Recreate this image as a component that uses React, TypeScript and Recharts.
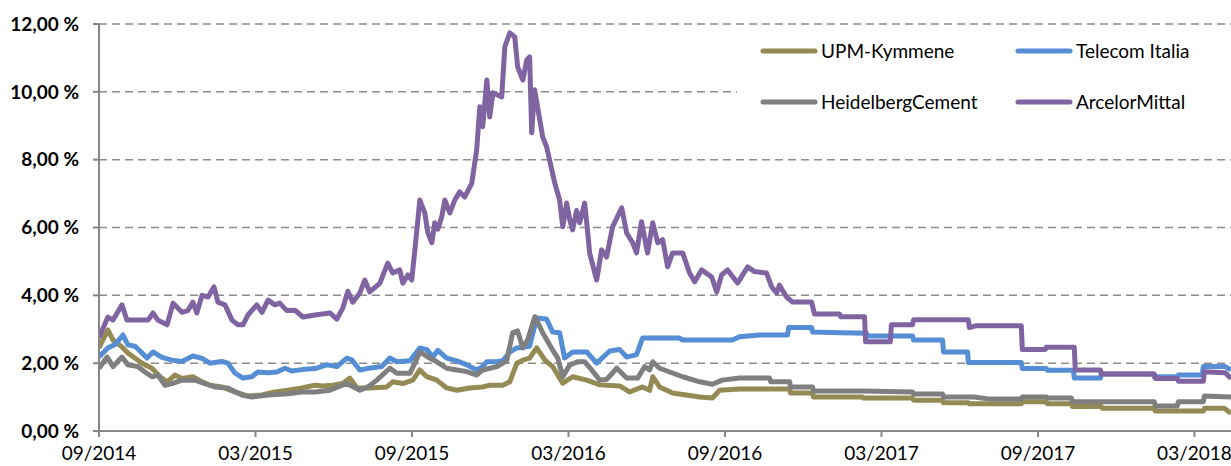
import { LineChart, Line, XAxis, YAxis, CartesianGrid } from 'recharts';

// x = months since 09/2014, y = percent
const upm: [number, number][] = [
  [0, 2.45], [0.34, 2.98], [0.54, 2.68], [0.88, 2.48], [1.11, 2.3], [1.65, 2.0], [2.03, 1.85],
  [2.34, 1.6], [2.61, 1.45], [2.91, 1.65], [3.18, 1.55], [3.6, 1.6], [3.95, 1.45], [4.25, 1.35],
  [4.71, 1.3], [5.21, 1.15], [5.71, 1.03], [6.25, 1.06], [6.74, 1.15], [7.24, 1.2], [7.78, 1.27],
  [8.28, 1.35], [8.58, 1.33], [8.97, 1.35], [9.35, 1.4], [9.62, 1.56], [9.89, 1.27], [10.38, 1.27],
  [11.03, 1.3], [11.26, 1.45], [11.65, 1.4], [12.03, 1.5], [12.3, 1.8], [12.57, 1.6], [12.95, 1.5],
  [13.33, 1.27], [13.72, 1.2], [14.21, 1.27], [14.71, 1.3], [14.98, 1.35], [15.48, 1.35],
  [15.75, 1.45], [16.02, 2.0], [16.25, 2.09], [16.51, 2.15], [16.78, 2.45], [17.09, 2.1],
  [17.39, 1.9], [17.78, 1.41], [18.16, 1.6], [18.7, 1.5], [19.2, 1.36], [19.96, 1.33],
  [20.34, 1.15], [20.84, 1.3], [21.11, 1.2], [21.23, 1.6], [21.49, 1.3], [21.99, 1.12],
  [23.03, 1.0], [23.52, 0.97], [23.79, 1.2], [24.56, 1.24], [26.48, 1.24], [26.51, 1.12],
  [27.36, 1.12], [27.39, 1.0], [29.27, 1.0], [29.31, 0.97], [31.19, 0.97], [31.23, 0.91],
  [32.34, 0.91], [32.38, 0.83], [33.33, 0.83], [33.37, 0.8], [35.36, 0.8], [35.4, 0.86],
  [36.32, 0.86], [36.36, 0.8], [37.28, 0.8], [37.32, 0.72], [38.43, 0.72], [38.47, 0.67],
  [40.46, 0.67], [40.5, 0.59], [42.34, 0.59], [42.38, 0.67], [43.14, 0.67], [43.4, 0.52],
];

const telecom: [number, number][] = [
  [0, 2.18], [0.34, 2.45], [0.61, 2.55], [0.92, 2.83], [1.11, 2.54], [1.38, 2.5], [1.65, 2.3],
  [1.84, 2.15], [2.07, 2.33], [2.41, 2.17], [2.8, 2.09], [3.18, 2.05], [3.6, 2.21], [3.95, 2.14],
  [4.25, 2.0], [4.71, 2.05], [4.94, 2.0], [5.21, 1.71], [5.52, 1.56], [5.86, 1.6], [6.09, 1.74],
  [6.48, 1.72], [6.82, 1.74], [7.13, 1.85], [7.39, 1.77], [7.78, 1.81], [8.28, 1.84],
  [8.74, 1.95], [9.12, 1.9], [9.5, 2.15], [9.69, 2.1], [10.0, 1.8], [10.27, 1.84], [10.84, 1.9],
  [11.15, 2.15], [11.42, 2.04], [11.92, 2.07], [12.3, 2.45], [12.57, 2.4], [12.8, 2.18],
  [12.99, 2.38], [13.33, 2.15], [13.72, 2.07], [14.1, 1.95], [14.48, 1.8], [14.67, 1.88],
  [14.87, 2.04], [15.25, 2.04], [15.48, 2.07], [15.75, 2.33], [16.02, 2.45], [16.51, 2.5],
  [16.78, 3.33], [17.16, 3.3], [17.39, 2.92], [17.66, 2.9], [17.85, 2.15], [18.16, 2.33],
  [18.7, 2.33], [19.08, 2.0], [19.58, 2.36], [19.96, 2.4], [20.23, 2.18], [20.61, 2.25],
  [20.84, 2.74], [22.26, 2.74], [22.38, 2.68], [24.29, 2.68], [24.56, 2.78], [25.33, 2.83],
  [26.4, 2.83], [26.44, 3.05], [27.32, 3.05], [27.36, 2.92], [28.47, 2.9], [29.43, 2.88],
  [29.46, 2.8], [31.19, 2.8], [31.23, 2.68], [32.34, 2.68], [32.38, 2.33], [33.3, 2.33],
  [33.33, 2.02], [35.36, 2.02], [35.4, 1.84], [36.32, 1.84], [36.36, 1.79], [37.36, 1.79],
  [37.39, 1.56], [38.39, 1.56], [38.43, 1.68], [40.42, 1.68], [40.46, 1.6], [41.34, 1.6],
  [41.38, 1.65], [42.3, 1.65], [42.34, 1.9], [43.18, 1.9], [43.4, 1.8],
];

const heidelberg: [number, number][] = [
  [0, 1.85], [0.31, 2.18], [0.54, 1.9], [0.88, 2.18], [1.11, 1.95], [1.49, 1.9], [1.76, 1.74],
  [2.03, 1.6], [2.26, 1.65], [2.53, 1.35], [2.8, 1.4], [3.18, 1.5], [3.68, 1.5], [4.06, 1.4],
  [4.44, 1.3], [4.94, 1.27], [5.48, 1.06], [5.86, 1.0], [6.48, 1.06], [7.24, 1.1], [7.78, 1.15],
  [8.28, 1.15], [8.85, 1.2], [9.5, 1.4], [10.0, 1.2], [10.31, 1.3], [10.65, 1.5], [11.15, 1.85],
  [11.42, 1.7], [11.92, 1.7], [12.11, 2.0], [12.3, 2.33], [12.68, 2.15], [12.95, 2.04],
  [13.33, 1.85], [13.72, 1.8], [14.1, 1.75], [14.48, 1.65], [14.71, 1.8], [15.25, 1.9],
  [15.63, 2.07], [15.86, 2.9], [16.05, 2.95], [16.25, 2.45], [16.44, 2.7], [16.71, 3.37],
  [17.01, 2.9], [17.39, 2.39], [17.59, 2.15], [17.78, 1.6], [18.05, 1.95], [18.35, 2.04],
  [18.62, 2.04], [18.89, 1.8], [19.2, 1.5], [19.46, 1.52], [19.85, 1.85], [20.23, 1.56],
  [20.65, 1.56], [20.92, 1.9], [21.11, 1.8], [21.23, 2.04], [21.49, 1.85], [21.88, 1.74],
  [22.38, 1.6], [23.03, 1.45], [23.52, 1.38], [23.9, 1.5], [24.56, 1.56], [25.71, 1.56],
  [25.75, 1.45], [26.48, 1.45], [26.51, 1.3], [27.36, 1.3], [27.39, 1.18], [29.27, 1.18],
  [31.19, 1.15], [31.23, 1.09], [32.34, 1.09], [32.38, 1.0], [33.56, 1.0], [34.14, 0.94],
  [35.36, 0.94], [35.4, 1.0], [36.32, 1.0], [36.36, 0.97], [37.28, 0.97], [37.32, 0.86],
  [40.46, 0.86], [40.5, 0.74], [41.34, 0.74], [41.38, 0.86], [42.34, 0.86], [42.38, 1.03],
  [43.4, 1.0],
];

const arcelor: [number, number][] = [
  [0, 2.75], [0.34, 3.36], [0.54, 3.27], [0.88, 3.72], [1.07, 3.27], [1.38, 3.27], [1.88, 3.27],
  [2.07, 3.48], [2.26, 3.27], [2.61, 3.13], [2.84, 3.77], [3.18, 3.5], [3.41, 3.55], [3.6, 3.8],
  [3.75, 3.48], [3.95, 4.0], [4.18, 3.95], [4.41, 4.25], [4.56, 3.8], [4.83, 3.72], [5.1, 3.27],
  [5.33, 3.13], [5.52, 3.13], [5.71, 3.42], [6.05, 3.72], [6.25, 3.5], [6.48, 3.86], [6.74, 3.72],
  [6.93, 3.77], [7.2, 3.55], [7.51, 3.56], [7.82, 3.36], [8.28, 3.42], [8.85, 3.48], [9.12, 3.3],
  [9.35, 3.63], [9.54, 4.12], [9.73, 3.8], [10.0, 4.07], [10.19, 4.45], [10.38, 4.1],
  [10.77, 4.36], [11.07, 4.95], [11.26, 4.66], [11.53, 4.75], [11.65, 4.36], [11.84, 4.6],
  [11.99, 4.45], [12.11, 5.34], [12.3, 6.81], [12.49, 6.43], [12.61, 5.84], [12.76, 5.55],
  [12.87, 6.14], [12.99, 5.95], [13.14, 6.31], [13.26, 6.81], [13.45, 6.43], [13.64, 6.81],
  [13.83, 7.05], [14.02, 6.9], [14.29, 7.3], [14.48, 8.29], [14.6, 9.56], [14.71, 8.97],
  [14.87, 10.35], [14.98, 9.26], [15.1, 9.97], [15.44, 9.85], [15.56, 11.33], [15.75, 11.74],
  [15.94, 11.62], [16.05, 10.74], [16.25, 10.35], [16.4, 10.94], [16.51, 11.03], [16.59, 8.79],
  [16.7, 10.06], [16.9, 9.17], [17.01, 8.67], [17.16, 8.38], [17.36, 7.7], [17.47, 7.32],
  [17.66, 6.81], [17.78, 6.02], [17.93, 6.72], [18.05, 6.22], [18.16, 5.93], [18.31, 6.5],
  [18.43, 6.14], [18.62, 6.72], [18.74, 5.84], [18.81, 5.25], [19.08, 4.45], [19.27, 5.34],
  [19.46, 5.13], [19.69, 6.02], [20.04, 6.58], [20.23, 5.84], [20.46, 5.55], [20.61, 5.25],
  [20.8, 6.17], [21.03, 5.25], [21.23, 6.14], [21.42, 5.55], [21.61, 5.64], [21.8, 4.84],
  [21.99, 5.25], [22.38, 5.25], [22.64, 4.66], [22.84, 4.4], [23.1, 4.75], [23.49, 4.54],
  [23.68, 4.1], [23.87, 4.6], [24.1, 4.75], [24.48, 4.36], [24.87, 4.84], [25.13, 4.7],
  [25.59, 4.66], [25.79, 4.25], [25.98, 4.07], [26.09, 4.3], [26.36, 3.95], [26.59, 3.8],
  [27.32, 3.8], [27.43, 3.45], [28.39, 3.45], [28.43, 3.37], [29.35, 3.37], [29.39, 2.63],
  [30.34, 2.63], [30.38, 3.13], [31.19, 3.13], [31.23, 3.28], [33.33, 3.28], [33.37, 3.05],
  [33.6, 3.1], [35.36, 3.1], [35.4, 2.4], [36.28, 2.4], [36.32, 2.47], [37.39, 2.47],
  [37.43, 1.8], [38.39, 1.8], [38.43, 1.68], [40.46, 1.68], [40.5, 1.55], [41.34, 1.55],
  [41.38, 1.47], [42.34, 1.47], [42.38, 1.75], [43.18, 1.72], [43.4, 1.55],
];

const tickMonths = [0, 6, 12, 18, 24, 30, 36, 42];
const tickLabels = ['09/2014', '03/2015', '09/2015', '03/2016', '09/2016', '03/2017', '09/2017', '03/2018'];
const yTicks = [0, 2, 4, 6, 8, 10, 12];

const series = [
  { name: 'UPM-Kymmene', color: '#948A54', points: upm },
  { name: 'Telecom Italia', color: '#558ED5', points: telecom },
  { name: 'HeidelbergCement', color: '#7F7F7F', points: heidelberg },
  { name: 'ArcelorMittal', color: '#8064A2', points: arcelor },
];

const FONT = 'Lato, "Open Sans", sans-serif';

function ChartLegend() {
  return (
    <div
      style={{
        position: 'absolute',
        left: 737,
        top: 25,
        width: 494,
        height: 100,
        display: 'grid',
        gridTemplateColumns: '255px 200px',
        gridAutoRows: '51px',
        paddingLeft: 23,
        boxSizing: 'border-box',
        background: '#fff',
        fontFamily: FONT,
        fontSize: 19,
        color: '#000',
      }}
    >
      {series.map(s => (
        <div key={s.name} style={{ display: 'flex', alignItems: 'center' }}>
          <svg width={58} height={8} style={{ marginRight: 3 }}>
            <line x1={3} y1={4} x2={55} y2={4} stroke={s.color} strokeWidth={5} strokeLinecap="round" />
          </svg>
          <span>{s.name}</span>
        </div>
      ))}
    </div>
  );
}

export default function App() {
  const fmtY = (v: number) => v.toFixed(2).replace('.', ',') + ' %';
  const fmtX = (v: number) => tickLabels[tickMonths.indexOf(v)] ?? '';

  return (
    <div style={{ position: 'absolute', left: 0, top: 0, width: 1231, height: 466, background: '#fff' }}>
      <LineChart width={1231} height={466} margin={{ top: 24, right: 0, left: 0, bottom: 0 }}>
        <CartesianGrid vertical={false} stroke="#8c8c8c" strokeWidth={1.5} strokeDasharray="8 5" />
        <XAxis
          type="number"
          dataKey="m"
          domain={[0, 43.4]}
          ticks={tickMonths}
          tickFormatter={fmtX}
          allowDataOverflow
          height={35}
          stroke="#868686"
          strokeWidth={2}
          tickSize={6}
          tickMargin={10}
          tick={{ fill: '#000', fontSize: 19, fontFamily: FONT }}
        />
        <YAxis
          domain={[0, 12]}
          ticks={yTicks}
          tickFormatter={fmtY}
          width={99}
          stroke="#868686"
          strokeWidth={2}
          tickSize={6}
          tickMargin={14}
          tick={{ fill: '#000', fontSize: 19, fontFamily: FONT, fontWeight: 700 }}
        />
        {series.map(s => (
          <Line
            key={s.name}
            name={s.name}
            data={s.points.map(([m, v]) => ({ m, v }))}
            dataKey="v"
            type="linear"
            stroke={s.color}
            strokeWidth={5}
            strokeLinejoin="round"
            dot={false}
            activeDot={false}
            isAnimationActive={false}
          />
        ))}
      </LineChart>
      <ChartLegend />
    </div>
  );
}
